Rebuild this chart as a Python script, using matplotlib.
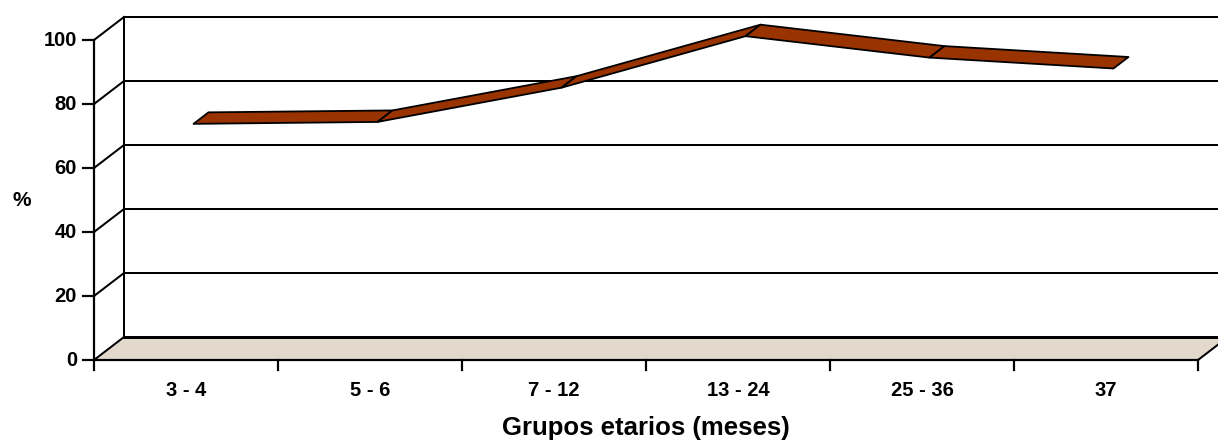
import numpy as np
import matplotlib.pyplot as plt
from matplotlib.patches import Polygon

plt.rcParams['font.family'] = ['Liberation Sans', 'DejaVu Sans']

# Data
categories = ['3 - 4', '5 - 6', '7 - 12', '13 - 24', '25 - 36', '37']
values = [72.0, 72.6, 83.3, 99.4, 92.7, 89.3]
y_ticks = [0, 20, 40, 60, 80, 100]

# Pixel geometry of the pseudo 3D box
W, H = 1218, 443
X0, Y0 = 94, 360        # front origin (px)
CAT_PX = 184            # px per category
VAL_PX = 3.2            # px per value unit
DX = 30 / CAT_PX        # depth offset in data units
DY = 23 / VAL_PX
PX = 0.72               # one pixel in points at dpi 100


def proj(x, y, d):
    return x + d * DX, y + d * DY


fig = plt.figure(figsize=(W / 100, H / 100), dpi=100)
ax = fig.add_axes([0, 0, 1, 1])
ax.set_xlim(-X0 / CAT_PX, (W - X0) / CAT_PX)
ax.set_ylim(-(H - Y0) / VAL_PX, Y0 / VAL_PX)
ax.axis('off')

n = len(categories)
ymax = y_ticks[-1]
xr = (W - X0) / CAT_PX + 1

# floor
floor = Polygon([proj(0, 0, 0), proj(n, 0, 0), proj(n, 0, 1), proj(0, 0, 1)],
                closed=True, facecolor='#e2d9cc', edgecolor='none', zorder=1)
ax.add_patch(floor)
ax.plot([DX, xr], [DY, DY], color='black', lw=3 * PX, zorder=3)
ax.plot([n, n + DX * 2], [0, DY * 2], color='black', lw=2 * PX, zorder=3)

# back wall gridlines and side wall
for v in y_ticks[1:]:
    ax.plot([DX, xr], [v + DY, v + DY], color='black', lw=2 * PX, zorder=2)
for v in y_ticks:
    ax.plot([0, DX], [v, v + DY], color='black', lw=2 * PX, zorder=3)
ax.plot([DX, DX], [DY, ymax + DY], color='black', lw=2 * PX, zorder=3)

# ribbon line
xs = np.arange(n) + 0.5
for i in range(n - 1):
    quad = [proj(xs[i], values[i], 0.25), proj(xs[i + 1], values[i + 1], 0.25),
            proj(xs[i + 1], values[i + 1], 0.75), proj(xs[i], values[i], 0.75)]
    ax.add_patch(Polygon(quad, closed=True, facecolor='#993300',
                         edgecolor='black', lw=1.8 * PX, joinstyle='round', zorder=5))

# front axes
ax.plot([0, 0], [0, ymax], color='black', lw=2.2 * PX, zorder=6)
ax.plot([0, n], [0, 0], color='black', lw=2.2 * PX, zorder=6)
tick_x = 11 / CAT_PX
for v in y_ticks:
    ax.plot([-tick_x, 0], [v, v], color='black', lw=2.2 * PX, zorder=6)
    ax.text(-17 / CAT_PX, v, str(v), ha='right', va='center',
            fontsize=14.5, fontweight='bold')
tick_y = 10 / VAL_PX
for i in range(n + 1):
    ax.plot([i, i], [0, -tick_y], color='black', lw=2.2 * PX, zorder=6)
for i, c in enumerate(categories):
    ax.text(xs[i], -30 / VAL_PX, c, ha='center', va='center',
            fontsize=14.5, fontweight='bold')

ax.text(n / 2, -68 / VAL_PX, 'Grupos etarios (meses)', ha='center', va='center',
        fontsize=18.5, fontweight='bold')
ax.text(-72 / CAT_PX, 50, '%', ha='center', va='center',
        fontsize=15, fontweight='bold')

fig.savefig('out.png', dpi=100)
